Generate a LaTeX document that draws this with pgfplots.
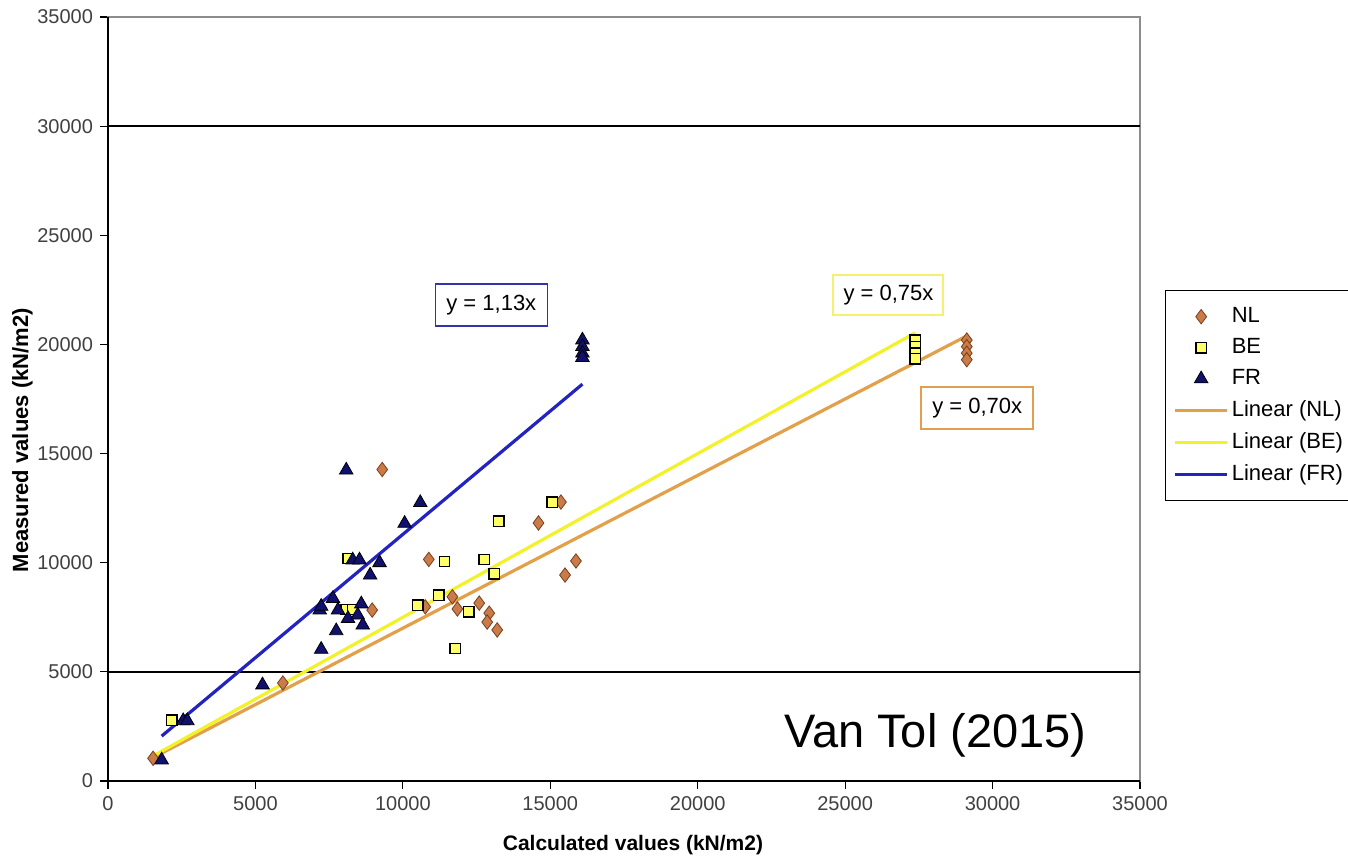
\documentclass[border=0pt]{standalone}
\usepackage{fontspec}
\setmainfont{Liberation Sans}
\usepackage{pgfplots}
\pgfplotsset{compat=1.18}
\definecolor{nlfill}{HTML}{C97B4A}
\definecolor{nledge}{HTML}{7A3E1A}
\definecolor{nlline}{HTML}{E3A04A}
\definecolor{befill}{HTML}{FFFF66}
\definecolor{beline}{HTML}{F2F22A}
\definecolor{frfill}{HTML}{10106E}
\definecolor{frline}{HTML}{2323C0}
\definecolor{boxblue}{HTML}{3333AA}
\definecolor{boxyellow}{HTML}{F5F070}
\definecolor{boxorange}{HTML}{E0A050}

\pgfplotstableread{
x y
9300 14270
10880 10150
8960 7830
5930 4490
1530 1040
15360 12780
14600 11820
15870 10080
15500 9435
10760 7980
11680 8440
11850 7880
12590 8150
12930 7690
12860 7280
13200 6920
29125 20200
29125 19900
29125 19600
29125 19300
}\nldata

\pgfplotstableread{
x y
8140 10190
8080 7860
8300 7860
10500 8060
11220 8520
11410 10060
2160 2790
15070 12780
13250 11910
12760 10150
13100 9500
12230 7750
11780 6070
27375 20200
27375 19900
27375 19600
27375 19350
}\bedata

\pgfplotstableread{
x y
8080 14240
10590 12750
10060 11800
8300 10120
8530 10120
9210 10000
8890 9430
7630 8360
7180 7830
7230 8000
7800 7830
8590 8110
8140 7440
8470 7600
8640 7140
7740 6880
7230 6030
5240 4400
2550 2760
2690 2760
1820 960
16090 20200
16090 19900
16090 19600
16090 19400
}\frdata

\begin{document}
\begin{tikzpicture}
\begin{axis}[
  scale only axis,
  width=516pt, height=382pt,
  xmin=0, xmax=35000, ymin=0, ymax=35000,
  xtick={0,5000,...,35000},
  ytick={0,5000,...,35000},
  xtick pos=bottom, ytick pos=left,
  tick align=outside,
  major tick length=4pt,
  tick style={black, line width=0.6pt},
  axis line style={black!45, line width=0.6pt},
  scaled ticks=false,
  /pgf/number format/.cd, 1000 sep={}, assume math mode=true,
  /pgfplots/.cd,
  ticklabel style={font=\fontsize{10}{12}\selectfont, text=black!75},
  extra y ticks={5000,30000},
  extra y tick labels={},
  extra y tick style={grid=major, major grid style={black, line width=0.8pt}, major tick length=0pt},
  xlabel={Calculated values (kN/m2)},
  ylabel={Measured values (kN/m2)},
  xlabel style={font=\bfseries\fontsize{10.5}{12}\selectfont, at={(axis description cs:0.5087,-0.084)}, anchor=center},
  ylabel style={font=\bfseries\fontsize{11}{12}\selectfont, at={(axis description cs:-0.083,0.446)}, anchor=center},
  legend style={at={(1.0242,0.6427)}, anchor=north west, draw=black, line width=0.6pt,
    font=\fontsize{11}{13}\selectfont, row sep=3.5pt, inner xsep=4pt, inner ysep=7pt,
    nodes={inner sep=1.5pt}},
  legend cell align=left,
  legend image code/.code={\draw[mark repeat=2,mark phase=2,#1] plot coordinates {(0pt,0pt) (13pt,0pt) (26pt,0pt)};},
  after end axis/.code={\draw[black, line width=0.9pt] (rel axis cs:0,1) -- (rel axis cs:0,0) -- (rel axis cs:1,0);},
]
\coordinate (sw) at (rel axis cs:0,0);
\coordinate (ne) at (rel axis cs:1,1);
\addplot[only marks, mark=diamond*, mark size=3.6pt, mark options={fill=nlfill, draw=nledge, line width=0.4pt}] table {\nldata};
\addlegendentry{NL}
\addplot[only marks, mark=square*, mark size=2.6pt, mark options={fill=befill, draw=black, line width=0.7pt}] table {\bedata};
\addlegendentry{BE}
\addplot[only marks, mark=triangle*, mark size=3.9pt, mark options={fill=frfill, draw=black, line width=0.4pt}] table {\frdata};
\addlegendentry{FR}
\addplot[nlline, line width=1.6pt] coordinates {(1530,1071) (29125,20390)};
\addlegendentry{Linear (NL)}
\addplot[beline, line width=1.6pt] coordinates {(1530,1148) (27375,20530)};
\addlegendentry{Linear (BE)}
\addplot[frline, line width=1.6pt] coordinates {(1820,2057) (16090,18180)};
\addlegendentry{Linear (FR)}
\node[draw=boxblue, fill=white, line width=0.8pt, font=\fontsize{11}{13}\selectfont, minimum width=56pt, minimum height=21pt] at (axis cs:13000,21800) {y = 1,13x};
\node[draw=boxyellow, fill=white, line width=1pt, font=\fontsize{11}{13}\selectfont, minimum width=55pt, minimum height=20pt] at (axis cs:26470,22260) {y = 0,75x};
\node[draw=boxorange, fill=white, line width=0.8pt, font=\fontsize{11}{13}\selectfont, minimum width=56pt, minimum height=21pt] at (axis cs:29480,17080) {y = 0,70x};
\node[anchor=base, font=\fontsize{23.5}{28}\selectfont] at (axis cs:28060,1557) {Van Tol (2015)};
\end{axis}
\path (sw) ++(-54pt,-40pt) coordinate (bl);
\path (ne) ++(104pt,8.5pt) coordinate (tr);
\pgfresetboundingbox
\useasboundingbox (bl) rectangle (tr);
\end{tikzpicture}
\end{document}
